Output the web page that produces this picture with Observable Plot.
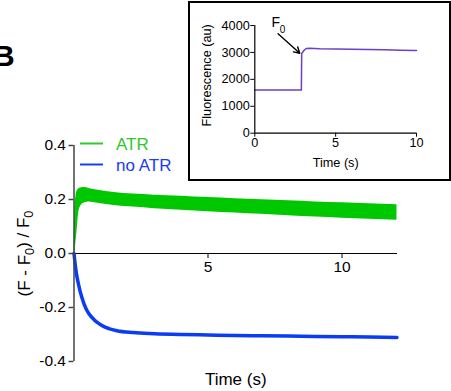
<!DOCTYPE html>
<html>
<head>
<meta charset="utf-8">
<script src="https://cdn.jsdelivr.net/npm/d3@7"></script>
<script src="https://cdn.jsdelivr.net/npm/@observablehq/plot@0.6"></script>
<style>
  body { margin: 0; background: #fff; font-family: "Liberation Sans", Arial, sans-serif; }
  #wrap { position: relative; width: 451px; height: 391px; overflow: hidden; background: #fff; }
  #main { position: absolute; left: 0; top: 0; }
  #inset { position: absolute; left: 188px; top: 2px; width: 262px; height: 178px; background: #fff; }
  #insetBox { position: absolute; left: 188px; top: 1px; width: 263px; height: 180px; border: 2px solid #000; box-sizing: border-box; pointer-events: none; }
  #overlay { position: absolute; left: 0; top: 0; pointer-events: none; }
</style>
</head>
<body>
<div id="wrap">
  <div id="main"></div>
  <div id="inset"></div>
  <div id="insetBox"></div>
  <svg id="overlay" width="451" height="391" font-family="Liberation Sans, Arial, sans-serif">
    <text x="-7" y="66" font-size="30" font-weight="bold" fill="#000">B</text>
    <line x1="80" x2="103" y1="143.5" y2="143.5" stroke="#2fc82f" stroke-width="2"></line>
    <text x="116" y="149.5" font-size="17" fill="#2fc82f">ATR</text>
    <line x1="80" x2="103" y1="164.5" y2="164.5" stroke="#1a3cf5" stroke-width="2"></line>
    <text x="116" y="170.5" font-size="17" fill="#1a3cf5">no ATR</text>
  </svg>
</div>
<script>
// ---- Main chart data: (F - F0) / F0 vs time (s) ----
const timeATR   = [0, 0.03, 0.07, 0.12, 0.17, 0.25, 0.4, 0.55, 0.9, 1.5, 2.2, 3, 4, 5, 6, 7, 8, 9, 10, 11, 12.05];
const atrTop    = [0, 0.15, 0.21, 0.232, 0.239, 0.243, 0.244, 0.241, 0.234, 0.226, 0.220, 0.216, 0.212, 0.207, 0.203, 0.199, 0.195, 0.191, 0.188, 0.184, 0.181];
const atrBottom = [0, 0.0, 0.04, 0.09, 0.145, 0.175, 0.188, 0.191, 0.186, 0.178, 0.172, 0.166, 0.160, 0.155, 0.150, 0.145, 0.140, 0.135, 0.131, 0.127, 0.123];

const timeNoATR = [0, 0.05, 0.1, 0.17, 0.3, 0.45, 0.55, 0.75, 0.92, 1.1, 1.3, 1.6, 2.2, 3, 4, 5, 6, 7, 8, 9, 10, 11, 12.05];
const noATR     = [0, -0.045, -0.08, -0.115, -0.165, -0.205, -0.222, -0.245, -0.259, -0.27, -0.278, -0.286, -0.293, -0.297, -0.300, -0.302, -0.304, -0.305, -0.306, -0.307, -0.308, -0.309, -0.311];

const mainYTicks = [-0.4, -0.2, 0, 0.2, 0.4];
const mainXTicks = [5, 10];

// ---- Inset data: Fluorescence (au) vs time (s) ----
const insetTime  = [0, 2.88, 2.9, 2.95, 3.05, 3.2, 3.4, 4, 5, 6, 7, 8, 9, 10];
const insetFluor = [1600, 1600, 2960, 3000, 3080, 3150, 3155, 3140, 3130, 3115, 3105, 3095, 3085, 3075];
const insetYTicks = [0, 1000, 2000, 3000, 4000];
const insetXTicks = [0, 5, 10];

// F0 annotation (data coordinates of the inset)
const arrowFrom = [1.44, 3692];
const arrowTo   = [2.78, 2971];
const f0LabelF  = [1.03, 4111];
const f0LabelSub = [1.55, 3850];

const FONT = "Liberation Sans, Arial, sans-serif";

const atrData = timeATR.map((t, i) => ({t, lo: atrBottom[i], hi: atrTop[i]}));
const noData = timeNoATR.map((t, i) => ({t, v: noATR[i]}));

const W = 451, H = 391, mL = 73.5, mR = 54, mT = 145, mB = 30;

const main = Plot.plot({
  width: W, height: H,
  marginLeft: mL, marginRight: mR, marginTop: mT, marginBottom: mB,
  style: {fontFamily: FONT, fontSize: "15.5px", color: "#000", background: "transparent", overflow: "visible"},
  x: {domain: [0, 12.07]},
  y: {domain: [-0.4, 0.4]},
  marks: [
    Plot.ruleY([0], {stroke: "#000", strokeWidth: 1}),
    Plot.areaY(atrData, {x: "t", y1: "lo", y2: "hi", fill: "#00c800", curve: "monotone-x"}),
    Plot.line(noData, {x: "t", y: "v", stroke: "#0a3cf5", strokeWidth: 3.5, curve: "monotone-x"}),
    Plot.ruleX([0], {stroke: "#444", strokeWidth: 1.5}),
    Plot.axisY({ticks: mainYTicks, tickSize: 5, tickPadding: 3, tickFormat: d => d.toFixed(1), label: null, stroke: "#444", strokeWidth: 1.5, fontSize: 15.5}),
    Plot.axisX({ticks: mainXTicks, tickSize: 5, tickPadding: 2, label: null, dy: -(H - mT - mB) / 2, fontSize: 15.5}),
    Plot.text(["Time (s)"], {frameAnchor: "bottom", lineAnchor: "middle", textAnchor: "middle", dy: 18.5, fontSize: 17}),
    Plot.text(["(F - F0) / F0"], {frameAnchor: "left", rotate: -90, textAnchor: "middle", lineAnchor: "middle", dx: -49.5, fontSize: 17})
  ]
});
document.getElementById("main").appendChild(main);

// subscripts in the y label
d3.select(main).selectAll("text").filter(function () { return this.textContent === "(F - F0) / F0"; })
  .each(function () {
    const t = d3.select(this);
    t.text(null);
    t.append("tspan").text("(F - F");
    t.append("tspan").attr("dy", "0.3em").attr("font-size", "0.75em").text("0");
    t.append("tspan").attr("dy", "-0.3em").text(") / F");
    t.append("tspan").attr("dy", "0.3em").attr("font-size", "0.75em").text("0");
  });

const insetData = insetTime.map((t, i) => ({t, f: insetFluor[i]}));

const inset = Plot.plot({
  width: 262, height: 178,
  marginLeft: 66.3, marginRight: 34, marginTop: 23, marginBottom: 47.3,
  style: {fontFamily: FONT, fontSize: "12.7px", color: "#000", background: "#fff", overflow: "visible"},
  x: {domain: [0, 10]},
  y: {domain: [0, 4000]},
  marks: [
    Plot.line(insetData, {x: "t", y: "f", stroke: "#6b3fc6", strokeWidth: 1.5}),
    Plot.ruleX([0], {stroke: "#000", strokeWidth: 1.2}),
    Plot.ruleY([0], {stroke: "#000", strokeWidth: 1.2}),
    Plot.axisY({ticks: insetYTicks, tickSize: 4, tickPadding: 1, tickFormat: d => String(d), label: null, fontSize: 12.7}),
    Plot.axisX({ticks: insetXTicks, tickSize: 4, tickPadding: 1, label: null, fontSize: 12.7}),
    Plot.text(["Time (s)"], {frameAnchor: "bottom", lineAnchor: "middle", textAnchor: "middle", dy: 30, fontSize: 12.7}),
    Plot.text(["Fluorescence (au)"], {frameAnchor: "left", rotate: -90, textAnchor: "middle", lineAnchor: "middle", dx: -48, dy: -4, fontSize: 12.7}),
    Plot.arrow([{x1: arrowFrom[0], y1: arrowFrom[1], x2: arrowTo[0], y2: arrowTo[1]}],
      {x1: "x1", y1: "y1", x2: "x2", y2: "y2", stroke: "#000", strokeWidth: 1.4, headLength: 7}),
    Plot.text([{x: f0LabelF[0], y: f0LabelF[1]}], {x: "x", y: "y", text: () => "F", textAnchor: "start", fontSize: 14}),
    Plot.text([{x: f0LabelSub[0], y: f0LabelSub[1]}], {x: "x", y: "y", text: () => "0", textAnchor: "start", fontSize: 10})
  ]
});
document.getElementById("inset").appendChild(inset);
</script>
</body>
</html>
